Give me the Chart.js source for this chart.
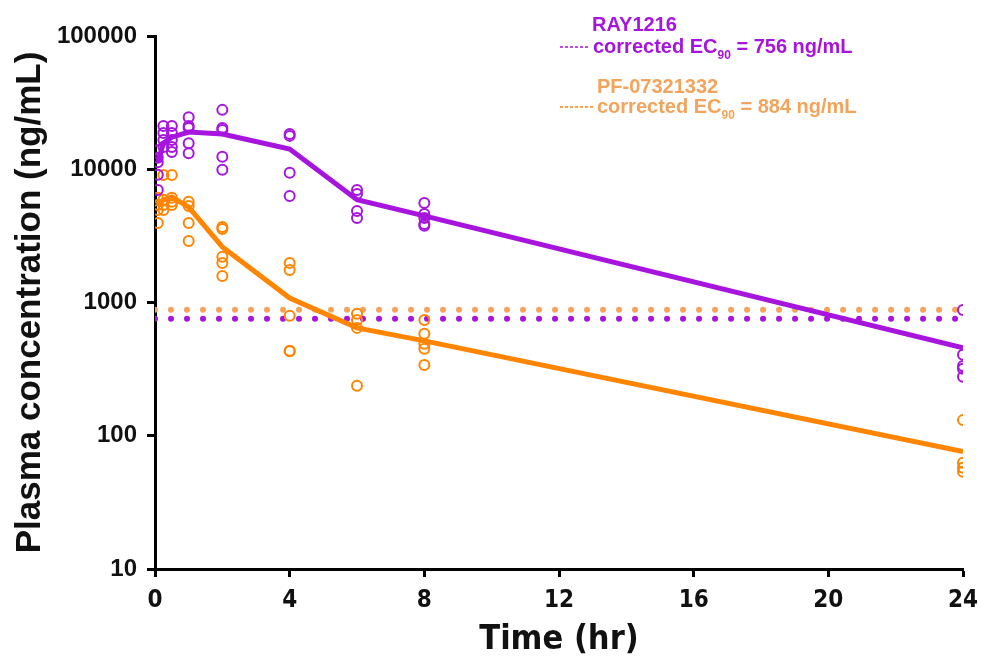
<!DOCTYPE html>
<html>
<head>
<meta charset="utf-8">
<title>Plasma concentration</title>
<script src="https://cdn.jsdelivr.net/npm/chart.js@4.4.0/dist/chart.umd.min.js"></script>
<style>
  html, body { margin: 0; padding: 0; background: #fff; }
  #pk { display: block; }
</style>
</head>
<body>
<canvas id="pk" width="981" height="661"></canvas>
<script>
// sampling times (hr)
const timesHr = [0.083, 0.25, 0.5, 1, 2, 4, 6, 8, 24];

// mean concentrations (ng/mL)
const rayMean = [11300, 15700, 17400, 19000, 18400, 14200, 5900, 4470, 457];
const pfMean = [5400, 5900, 6200, 5200, 2610, 1080, 645, 515, 76];

// individual animals, one list per sampling time
const rayIndividual = [
  [13900, 12200, 11300, 9100, 7000],
  [21100, 18700, 16600, 14700],
  [21100, 18700, 16600, 14700, 13500],
  [24600, 21100, 20400, 15700, 13200],
  [27900, 20400, 19700, 12400, 9900],
  [18400, 17800, 9400, 6300],
  [7000, 6530, 4860, 4310],
  [5590, 4620, 4310, 3890, 3760],
  [880, 405, 334, 318, 277]
];
const pfIndividual = [
  [6100, 5400, 4950, 3950],
  [9060, 5900, 5400, 4950],
  [9060, 6100, 5700, 5400],
  [5700, 5300, 3950, 2900],
  [3690, 3560, 2200, 1980, 1580],
  [1980, 1750, 795, 434, 430],
  [822, 740, 645, 237],
  [740, 582, 490, 449, 340],
  [131, 62.6, 57.5, 53.6]
];

// corrected EC90 (ng/mL)
const rayEC90 = 756;
const pfEC90 = 884;

const yTicks = [10, 100, 1000, 10000, 100000];
const xTicks = [0, 4, 8, 12, 16, 20, 24];

const PURPLE = '#A714DE';
const ORANGE = '#FF8400';
const ORANGE_LIGHT = '#F2A45C';
const NARROW = "'Liberation Sans Narrow', 'DejaVu Sans Condensed', 'Arial Narrow', sans-serif";
const SANS = "'Liberation Sans', Arial, sans-serif";

const meanPoints = (vals) => timesHr.map((t, i) => ({ x: t, y: vals[i] }));
const scatterPoints = (groups) => groups.flatMap((g, i) => g.map(v => ({ x: timesHr[i], y: v })));
const flatLine = (v) => [{ x: xTicks[0], y: v }, { x: xTicks[xTicks.length - 1], y: v }];

// legend block in the upper right
const ecLegend = {
  id: 'ecLegend',
  afterDraw(chart) {
    const ctx = chart.ctx;
    ctx.save();
    ctx.textBaseline = 'alphabetic';
    ctx.textAlign = 'left';

    const entry = (name, nameX, nameY, lineY, textX, value, color, dashColor) => {
      ctx.fillStyle = color;
      ctx.font = 'bold 20px ' + SANS;
      ctx.fillText(name, nameX, nameY);

      ctx.strokeStyle = dashColor;
      ctx.lineWidth = 1.5;
      ctx.setLineDash([3, 2]);
      ctx.beginPath();
      ctx.moveTo(560, lineY - 6);
      ctx.lineTo(textX - 3, lineY - 6);
      ctx.stroke();
      ctx.setLineDash([]);

      let x = textX;
      const a = 'corrected EC';
      ctx.font = 'bold 20px ' + SANS;
      ctx.fillText(a, x, lineY);
      x += ctx.measureText(a).width;
      ctx.font = 'bold 12px ' + SANS;
      ctx.fillText('90', x, lineY + 6);
      x += ctx.measureText('90').width;
      ctx.font = 'bold 20px ' + SANS;
      ctx.fillText(' = ' + value + ' ng/mL', x, lineY);
    };

    entry('RAY1216', 592, 31, 53, 593, rayEC90, PURPLE, PURPLE);
    entry('PF-07321332', 597, 93, 113, 597, pfEC90, ORANGE_LIGHT, ORANGE);
    ctx.restore();
  }
};

new Chart(document.getElementById('pk'), {
  type: 'scatter',
  data: {
    datasets: [
      {
        type: 'line',
        label: 'RAY1216 mean',
        data: meanPoints(rayMean),
        borderColor: PURPLE,
        borderWidth: 5,
        pointRadius: 0,
        tension: 0
      },
      {
        type: 'line',
        label: 'PF-07321332 mean',
        data: meanPoints(pfMean),
        borderColor: ORANGE,
        borderWidth: 5,
        pointRadius: 0,
        tension: 0
      },
      {
        label: 'RAY1216',
        data: scatterPoints(rayIndividual),
        borderColor: PURPLE,
        backgroundColor: 'rgba(0,0,0,0)',
        pointRadius: 5,
        pointBorderWidth: 2
      },
      {
        label: 'PF-07321332',
        data: scatterPoints(pfIndividual),
        borderColor: ORANGE,
        backgroundColor: 'rgba(0,0,0,0)',
        pointRadius: 5,
        pointBorderWidth: 2
      },
      {
        type: 'line',
        label: 'RAY1216 EC90',
        data: flatLine(rayEC90),
        borderColor: PURPLE,
        borderWidth: 6,
        borderDash: [0.001, 16],
        borderCapStyle: 'round',
        pointRadius: 0
      },
      {
        type: 'line',
        label: 'PF-07321332 EC90',
        data: flatLine(pfEC90),
        borderColor: ORANGE_LIGHT,
        borderWidth: 6,
        borderDash: [0.001, 16],
        borderCapStyle: 'round',
        pointRadius: 0
      }
    ]
  },
  options: {
    responsive: false,
    animation: false,
    events: [],
    layout: { padding: { top: 36, right: 18, left: 0, bottom: 0 } },
    plugins: {
      legend: { display: false },
      tooltip: { enabled: false }
    },
    scales: {
      x: {
        type: 'linear',
        min: 0,
        max: 24,
        afterBuildTicks: (scale) => { scale.ticks = xTicks.map(v => ({ value: v })); },
        afterFit: (scale) => {
          scale.height = 92;
          // let the layout padding alone decide the plot's right edge
          scale.paddingLeft = 0;
          scale.paddingRight = 0;
        },
        grid: { drawOnChartArea: false, drawTicks: true, tickLength: 8, tickWidth: 3, tickColor: '#000' },
        border: { color: '#000', width: 3 },
        ticks: {
          color: '#111',
          padding: 9,
          maxRotation: 0,
          font: { family: NARROW, size: 24, weight: 'bold' },
          callback: (v) => String(v)
        },
        title: {
          display: true,
          text: 'Time (hr)',
          color: '#111',
          padding: { top: 0, bottom: 0 },
          font: { family: NARROW, size: 34, weight: 'bold' }
        }
      },
      y: {
        type: 'logarithmic',
        min: 10,
        max: 100000,
        afterBuildTicks: (scale) => { scale.ticks = yTicks.map(v => ({ value: v })); },
        afterFit: (scale) => { scale.width = 155; },
        grid: { drawOnChartArea: false, drawTicks: true, tickLength: 8, tickWidth: 3, tickColor: '#000' },
        border: { color: '#000', width: 3 },
        ticks: {
          color: '#111',
          padding: 10,
          font: { family: SANS, size: 24, weight: 'bold' },
          callback: (v) => String(v)
        },
        title: {
          display: true,
          text: 'Plasma concentration (ng/mL)',
          color: '#111',
          padding: { top: 9, bottom: 0 },
          font: { family: SANS, size: 35, weight: 'bold' }
        }
      }
    }
  },
  plugins: [ecLegend]
});
</script>
</body>
</html>
